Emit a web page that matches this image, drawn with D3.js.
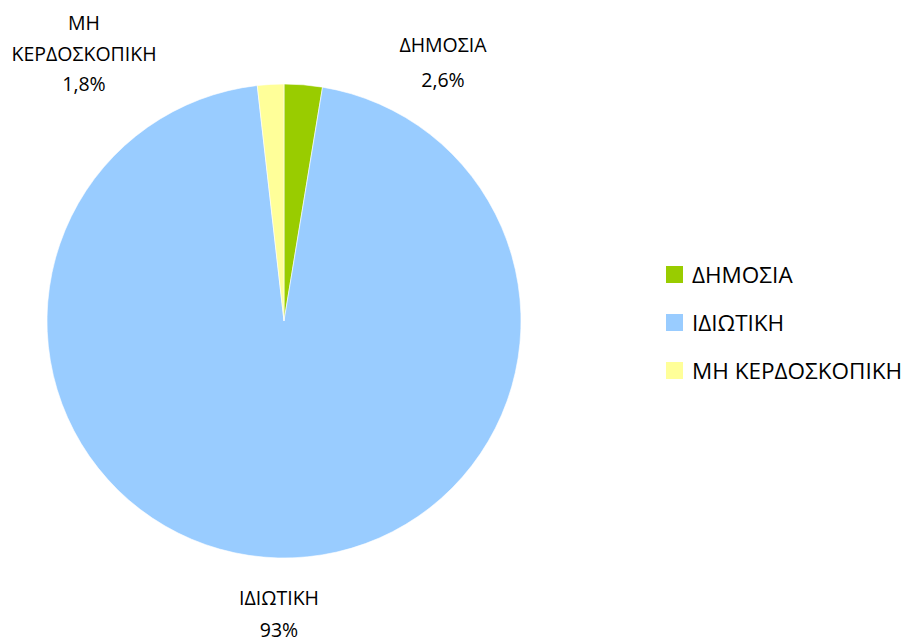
<!DOCTYPE html>
<html><head><meta charset="utf-8">
<script src="https://cdn.jsdelivr.net/npm/d3@7"></script>
<style>body{margin:0;background:#fff}svg{display:block}text{font-family:"Open Sans","Noto Sans",sans-serif;fill:#000}</style>
</head><body>
<svg id="c" width="911" height="644"></svg>
<script>
const categories = ["ΔΗΜΟΣΙΑ", "ΙΔΙΩΤΙΚΗ", "ΜΗ ΚΕΡΔΟΣΚΟΠΙΚΗ"];
const values = [2.6, 95.6, 1.8];
const valueLabels = ["2,6%", "93%", "1,8%"];
const colors = ["#99CC00", "#99CCFF", "#FFFF99"];

const svg = d3.select("#c");
const cx = 284, cy = 321, R = 237;
const fsLabel = 19.5, fsLegend = 22.5;

const pie = d3.pie().sort(null).value(d => d.v);
const data = categories.map((c, i) => ({c, v: values[i], lab: valueLabels[i], col: colors[i]}));
const arcs = pie(data);
const arc = d3.arc().innerRadius(0).outerRadius(R);

const g = svg.append("g").attr("transform", `translate(${cx},${cy})`);
g.selectAll("path").data(arcs).join("path")
  .attr("d", arc).attr("fill", d => d.data.col)
  .attr("stroke", "#fff").attr("stroke-width", 0.6);

// data labels (category name lines + value)
const labelLayout = [
  {x: 443, lines: [{t: "ΔΗΜΟΣΙΑ", y: 52}, {t: null, y: 87}]},
  {x: 279, lines: [{t: "ΙΔΙΩΤΙΚΗ", y: 605}, {t: null, y: 637}]},
  {x: 84, lines: [{t: "ΜΗ", y: 30}, {t: "ΚΕΡΔΟΣΚΟΠΙΚΗ", y: 61}, {t: null, y: 91}]}
];
arcs.forEach((a, i) => {
  labelLayout[i].lines.forEach(l => {
    svg.append("text").attr("x", labelLayout[i].x).attr("y", l.y)
      .attr("text-anchor", "middle").attr("font-size", fsLabel)
      .text(l.t === null ? a.data.lab : l.t);
  });
});

// legend
const lg = svg.append("g").attr("transform", "translate(666,266)");
const items = lg.selectAll("g").data(data).join("g")
  .attr("transform", (d, i) => `translate(0,${i * 48})`);
items.append("rect").attr("width", 17).attr("height", 17).attr("fill", d => d.col);
items.append("text").attr("x", 26).attr("y", 17).attr("font-size", fsLegend).text(d => d.c);
</script>
</body></html>
